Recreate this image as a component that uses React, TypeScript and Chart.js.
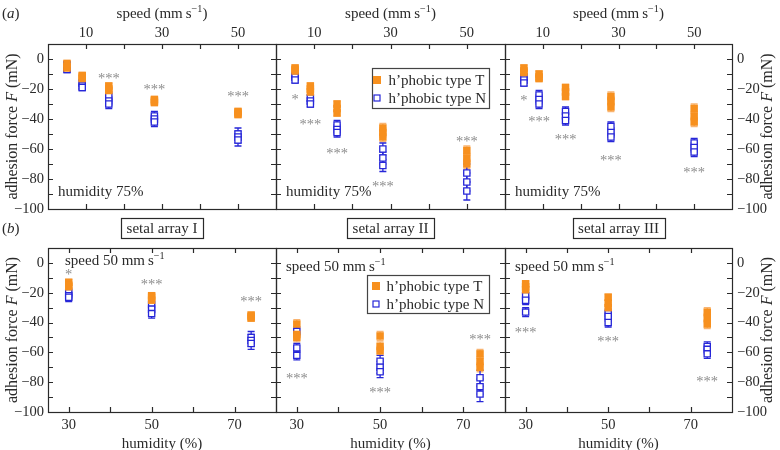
import React, { useEffect, useRef } from 'react';
import { Chart, registerables } from 'chart.js';
Chart.register(...registerables);

const W = 780;
const H = 450;
const SERIF = '"Liberation Serif", "Times New Roman", serif';
const ORANGE = '#f7901e';
const ORANGE_ERR = '#f9b470';
const BLUE = '#2626d8';
const STAR = '#8c8c8c';
const INK = '#2a2a2a';

// ---------- data ----------
const speeds = [5, 9, 16, 28, 50];
const humidities = [30, 50, 74];
const speedTicks = [0, 10, 20, 30, 40, 50, 60];
const humidityTicks = [30, 40, 50, 60, 70, 80];
const forceTicks = [-100, -90, -80, -70, -60, -50, -40, -30, -20, -10, 0, 10];
const speedTickLabels = [10, 30, 50];
const humidityTickLabels = [30, 50, 70];
const forceTickLabels = [0, -20, -40, -60, -80, -100];
const seriesNames = ['h\u2019phobic type T', 'h\u2019phobic type N'];
const arrayNames = ['setal array I', 'setal array II', 'setal array III'];

// (a) force vs speed, humidity 75%
const speedI_T = [[-3, -5, -6], [-11, -12, -13], [-18, -20, -21], [-27, -28, -29], [-35, -36, -37]];
const speedI_TErr = [2, 2, 2, 2, 2];
const speedI_N = [[-4, -6, -7], [-16, -18, -19], [-25, -28, -30], [-38, -40, -42], [-50, -52, -54]];
const speedI_NErr = [2, 2, 3, 3, 4];
const speedI_stars = ['', '', '***', '***', '***'];
const speedI_starY = [0, 0, -11, -18.5, -23.5];

const speedII_T = [[-6, -7, -8], [-18, -20, -22], [-30, -33, -36], [-46, -49, -52], [-61, -66, -70]];
const speedII_TErr = [2, 2, 2, 3, 3];
const speedII_N = [[-11, -12, -14], [-26, -28, -30], [-44, -47, -49], [-60, -66, -71], [-76, -82, -88]];
const speedII_NErr = [2, 2, 3, 4, 6];
const speedII_stars = ['*', '***', '***', '***', '***'];
const speedII_starY = [-25, -42, -61, -83, -53];

const speedIII_T = [[-6, -8, -9], [-10, -12, -13], [-19, -22, -25], [-25, -28, -32], [-33, -38, -42]];
const speedIII_TErr = [2, 2, 2, 3, 3];
const speedIII_N = [[-12, -14, -16], [-24, -27, -30], [-35, -38, -41], [-45, -49, -52], [-56, -59, -62]];
const speedIII_NErr = [2, 3, 3, 3, 3];
const speedIII_stars = ['*', '***', '***', '***', '***'];
const speedIII_starY = [-26, -40, -52, -66, -74];

// (b) force vs humidity, speed 50 mm/s
const humI_T = [[-13, -15, -16], [-22, -23, -25], [-35, -36, -37]];
const humI_TErr = [2, 2, 2];
const humI_N = [[-20, -22, -23], [-28, -31, -34], [-50, -52, -54]];
const humI_NErr = [3, 3, 4];
const humI_stars = ['*', '***', '***'];
const humI_starY = [-6, -13, -24];

const humII_T = [[-41, -48, -50], [-49, -56, -59], [-61, -66, -70]];
const humII_TErr = [3, 3, 3];
const humII_N = [[-46, -57, -62], [-66, -70, -73], [-77, -83, -88]];
const humII_NErr = [3, 4, 5];
const humII_stars = ['***', '***', '***'];
const humII_starY = [-76, -85, -50];

const humIII_T = [[-14, -16, -18], [-23, -27, -30], [-33, -37, -41]];
const humIII_TErr = [2, 2, 3];
const humIII_N = [[-22, -25, -33], [-34, -36, -40], [-56, -58, -61]];
const humIII_NErr = [3, 3, 3];
const humIII_stars = ['***', '***', '***'];
const humIII_starY = [-45, -51, -78];

type Spec = {
  col: number; row: number; xs: number[];
  t: number[][]; tErr: number[]; n: number[][]; nErr: number[];
  stars: string[]; starY: number[];
};

const panels: Spec[] = [
  { col: 0, row: 0, xs: speeds, t: speedI_T, tErr: speedI_TErr, n: speedI_N, nErr: speedI_NErr, stars: speedI_stars, starY: speedI_starY },
  { col: 1, row: 0, xs: speeds, t: speedII_T, tErr: speedII_TErr, n: speedII_N, nErr: speedII_NErr, stars: speedII_stars, starY: speedII_starY },
  { col: 2, row: 0, xs: speeds, t: speedIII_T, tErr: speedIII_TErr, n: speedIII_N, nErr: speedIII_NErr, stars: speedIII_stars, starY: speedIII_starY },
  { col: 0, row: 1, xs: humidities, t: humI_T, tErr: humI_TErr, n: humI_N, nErr: humI_NErr, stars: humI_stars, starY: humI_starY },
  { col: 1, row: 1, xs: humidities, t: humII_T, tErr: humII_TErr, n: humII_N, nErr: humII_NErr, stars: humII_stars, starY: humII_starY },
  { col: 2, row: 1, xs: humidities, t: humIII_T, tErr: humIII_TErr, n: humIII_N, nErr: humIII_NErr, stars: humIII_stars, starY: humIII_starY },
];

// ---------- layout ----------
const COL_L = [48, 276, 505];
const COL_R = [276, 505, 732];
const ROW_T = [44, 248];
const ROW_B = [209, 412];

type Seg = [string, string?];
function font(size: number, kind?: string) {
  if (kind === 'i') return `italic ${size}px ${SERIF}`;
  if (kind === 's') return `${size * 0.68}px ${SERIF}`;
  return `${size}px ${SERIF}`;
}
function drawRich(ctx: CanvasRenderingContext2D, segs: Seg[], x: number, y: number, size: number, align: string, color: string) {
  const widths = segs.map(([t, k]) => { ctx.font = font(size, k); return ctx.measureText(t).width; });
  const total = widths.reduce((a, b) => a + b, 0);
  let cx = align === 'left' ? x : align === 'center' ? x - total / 2 : x - total;
  ctx.textAlign = 'left';
  ctx.textBaseline = 'alphabetic';
  ctx.fillStyle = color;
  segs.forEach(([t, k], i) => {
    ctx.font = font(size, k);
    ctx.fillText(t, cx, k === 's' ? y - size * 0.4 : y);
    cx += widths[i];
  });
  return total;
}

function minusify(v: number) {
  return String(v).replace('-', '\u2212');
}

function buildConfig(p: Spec): any {
  const top = p.row === 0;
  const L = COL_L[p.col], R = COL_R[p.col], T = ROW_T[p.row], B = ROW_B[p.row];
  const yW = p.col === 1 ? 0 : 48;
  const xH = top ? 44 : 38;
  const padding = {
    left: p.col === 2 ? L : L - yW,
    right: p.col === 2 ? W - R - yW : W - R,
    top: top ? T - xH : T,
    bottom: top ? H - B : H - B - xH,
  };
  const xMin = top ? 0 : 25;
  const xMax = top ? 60 : 80;
  const xTickVals = top ? speedTicks : humidityTicks;
  const xLabels = top ? speedTickLabels : humidityTickLabels;
  const toPts = (groups: number[][], errs: number[]) =>
    groups.flatMap((g, i) => g.map((v) => ({ x: p.xs[i], y: v, e: errs[i] })));

  const decor = {
    id: 'decor' + p.col + p.row,
    beforeDatasetsDraw(chart: any) {
      const { ctx } = chart;
      const xs = chart.scales.x, ys = chart.scales.y;
      ctx.save();
      chart.data.datasets.forEach((ds: any) => {
        ctx.strokeStyle = ds.errColor;
        ctx.lineWidth = 1.3;
        ds.data.forEach((pt: any) => {
          const px = xs.getPixelForValue(pt.x);
          const y1 = ys.getPixelForValue(pt.y + pt.e);
          const y2 = ys.getPixelForValue(pt.y - pt.e);
          ctx.beginPath();
          ctx.moveTo(px, y1); ctx.lineTo(px, y2);
          ctx.moveTo(px - 3.5, y1); ctx.lineTo(px + 3.5, y1);
          ctx.moveTo(px - 3.5, y2); ctx.lineTo(px + 3.5, y2);
          ctx.stroke();
        });
      });
      ctx.restore();
    },
    afterDraw(chart: any) {
      const { ctx, chartArea: a } = chart;
      const xs = chart.scales.x, ys = chart.scales.y;
      ctx.save();
      // frame
      ctx.strokeStyle = INK;
      ctx.lineWidth = 1.2;
      ctx.strokeRect(Math.round(a.left) + 0.5, Math.round(a.top) + 0.5, Math.round(a.right - a.left), Math.round(a.bottom - a.top));
      // inward ticks from the scales' own ticks
      ctx.beginPath();
      xs.ticks.forEach((tk: any) => {
        const v = tk.value;
        if (v <= xMin || v >= xMax) return;
        const px = Math.round(xs.getPixelForValue(v)) + 0.5;
        ctx.moveTo(px, a.bottom); ctx.lineTo(px, a.bottom - 5);
        ctx.moveTo(px, a.top); ctx.lineTo(px, a.top + 5);
      });
      ys.ticks.forEach((tk: any) => {
        const v = tk.value;
        if (v <= -100 || v >= 10) return;
        const py = Math.round(ys.getPixelForValue(v)) + 0.5;
        ctx.moveTo(a.left, py); ctx.lineTo(a.left + 5, py);
        ctx.moveTo(a.right, py); ctx.lineTo(a.right - 5, py);
      });
      ctx.stroke();

      // significance stars
      ctx.font = `14.5px ${SERIF}`;
      ctx.fillStyle = STAR;
      ctx.textAlign = 'center';
      ctx.textBaseline = 'alphabetic';
      p.stars.forEach((s, i) => {
        if (!s) return;
        ctx.fillText(s, xs.getPixelForValue(p.xs[i]), ys.getPixelForValue(p.starY[i]) + 7);
      });

      const cx = (L + R) / 2;
      if (top) {
        drawRich(ctx, [['speed (mm\u2009s'], ['\u22121', 's'], [')']], cx, 18, 15, 'center', INK);
        drawRich(ctx, [['humidity 75%']], L + 10, 196, 15, 'left', INK);
        if (p.col === 0) drawRich(ctx, [['('], ['a', 'i'], [')']], 2, 18, 15, 'left', INK);
      } else {
        drawRich(ctx, [['humidity (%)']], cx, 448, 15, 'center', INK);
        if (p.col === 0) drawRich(ctx, [['speed 50 mm\u2009s'], ['\u22121', 's']], 65, 265, 15, 'left', INK);
        else drawRich(ctx, [['speed 50 mm\u2009s'], ['\u22121', 's']], L + 10, 271, 15, 'left', INK);
        if (p.col === 0) drawRich(ctx, [['('], ['b', 'i'], [')']], 2, 233, 15, 'left', INK);
        // setal array label box
        ctx.font = `15px ${SERIF}`;
        const tw = ctx.measureText(arrayNames[p.col]).width;
        const bw = tw + 11;
        ctx.fillStyle = '#fff';
        ctx.fillRect(cx - bw / 2, 218, bw, 20);
        ctx.strokeStyle = INK;
        ctx.lineWidth = 1.2;
        ctx.strokeRect(Math.round(cx - bw / 2) + 0.5, 218.5, Math.round(bw), 20);
        drawRich(ctx, [[arrayNames[p.col]]], cx, 233, 15, 'center', INK);
      }
      // y titles
      const yt: Seg[] = [['adhesion force '], ['F', 'i'], [' (mN)']];
      const ycen = (T + B) / 2;
      if (p.col === 0 || p.col === 2) {
        ctx.save();
        ctx.translate(p.col === 0 ? 12 : 767, ycen);
        ctx.rotate(-Math.PI / 2);
        drawRich(ctx, yt, 0, 5, 16, 'center', INK);
        ctx.restore();
      }
      // legend
      if (p.col === 1) {
        const box = top ? { x: 372, y: 68, w: 117, h: 40, mx: 5, tx: 16.5, r1: 12, r2: 30 } : { x: 367, y: 275, w: 122, h: 38, mx: 9, tx: 19.5, r1: 11, r2: 29 };
        ctx.fillStyle = '#fff';
        ctx.fillRect(box.x, box.y, box.w, box.h);
        ctx.strokeStyle = '#444';
        ctx.lineWidth = 1.2;
        ctx.strokeRect(box.x + 0.5, box.y + 0.5, box.w, box.h);
        ctx.fillStyle = ORANGE;
        ctx.fillRect(box.x + box.mx - 4, box.y + box.r1 - 4, 8, 8);
        ctx.fillStyle = '#fff';
        ctx.strokeStyle = BLUE;
        ctx.lineWidth = 1.2;
        ctx.strokeRect(box.x + box.mx - 3, box.y + box.r2 - 3, 6, 6);
        drawRich(ctx, [[seriesNames[0]]], box.x + box.tx, box.y + box.r1 + 5, 15, 'left', INK);
        drawRich(ctx, [[seriesNames[1]]], box.x + box.tx, box.y + box.r2 + 5, 15, 'left', INK);
      }
      ctx.restore();
    },
  };

  return {
    type: 'scatter',
    data: {
      datasets: [
        {
          label: seriesNames[0], data: toPts(p.t, p.tErr), pointStyle: 'rect', pointRadius: 5.3,
          backgroundColor: ORANGE, borderColor: ORANGE, borderWidth: 0, errColor: ORANGE_ERR,
        },
        {
          label: seriesNames[1], data: toPts(p.n, p.nErr), pointStyle: 'rect', pointRadius: 4.4,
          backgroundColor: '#ffffff', borderColor: BLUE, borderWidth: 1.3, errColor: BLUE,
        },
      ],
    },
    options: {
      animation: false,
      responsive: false,
      devicePixelRatio: 1,
      layout: { padding },
      plugins: { legend: { display: false }, tooltip: { enabled: false } },
      scales: {
        x: {
          type: 'linear', position: top ? 'top' : 'bottom', min: xMin, max: xMax,
          grid: { display: false, drawTicks: false }, border: { display: false },
          afterBuildTicks: (s: any) => { s.ticks = xTickVals.map((v) => ({ value: v })); },
          ticks: {
            autoSkip: false, maxRotation: 0, minRotation: 0,
            padding: top ? 2 : 4, color: INK, font: { family: SERIF, size: 14.5 },
            callback: (v: number) => (xLabels.includes(v) ? String(v) : ''),
          },
          afterFit: (s: any) => { s.height = xH; },
        },
        y: {
          type: 'linear', position: p.col === 2 ? 'right' : 'left', min: -100, max: 10,
          grid: { display: false, drawTicks: false }, border: { display: false },
          afterBuildTicks: (s: any) => { s.ticks = forceTicks.map((v) => ({ value: v })); },
          ticks: {
            display: p.col !== 1, autoSkip: false,
            padding: p.col === 2 ? 5 : 4, color: INK, font: { family: SERIF, size: 14.5 },
            callback: (v: number) => (forceTickLabels.includes(v) ? minusify(v) : ''),
          },
          afterFit: (s: any) => { s.width = yW; },
        },
      },
    },
    plugins: [decor],
  };
}

function Panel({ spec }: { spec: Spec }) {
  const ref = useRef<HTMLCanvasElement>(null);
  useEffect(() => {
    const chart = new Chart(ref.current as HTMLCanvasElement, buildConfig(spec));
    return () => chart.destroy();
  }, [spec]);
  return <canvas ref={ref} width={W} height={H} style={{ position: 'absolute', left: 0, top: 0 }} />;
}

export default function App() {
  return (
    <div style={{ position: 'absolute', left: 0, top: 0, width: W, height: H, background: '#fff', overflow: 'hidden' }}>
      {panels.map((p, i) => <Panel key={i} spec={p} />)}
    </div>
  );
}
